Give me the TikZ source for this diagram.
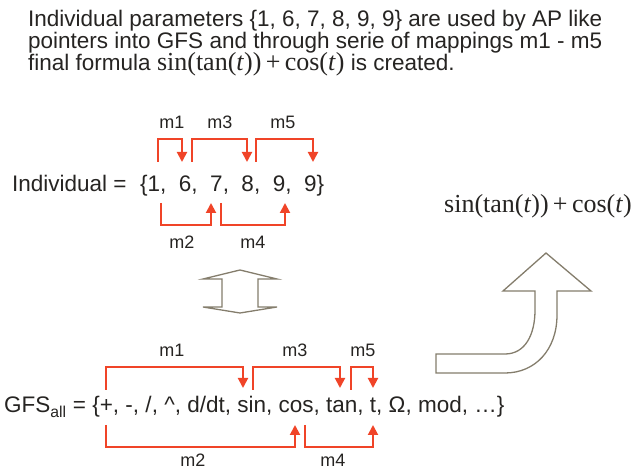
\documentclass[tikz,border=0pt]{standalone}
\usepackage{fontspec}
\setmainfont{Liberation Sans}
\newfontfamily\tms{Liberation Serif}
\usetikzlibrary{arrows.meta,calc}
\definecolor{txt}{RGB}{38,36,34}
\definecolor{redc}{RGB}{240,68,40}
\definecolor{outl}{RGB}{132,125,108}
\tikzset{
  body/.style={inner sep=0pt, text=txt, font=\fontsize{22.5}{22.5}\selectfont, anchor=base west},
  lbl/.style={inner sep=0pt, text=txt, font=\fontsize{18}{18}\selectfont},
  rarr/.style={draw=redc, line width=2pt, -{Triangle[length=10pt,width=10pt]}},
  hollow/.style={draw=outl, line width=1.3pt, fill=white, line join=miter},
}
\newcommand{\fml}{{\tms\fontsize{26}{26}\selectfont sin(tan(\textit{t}))\,+\,cos(\textit{t})}}
\begin{document}
\begin{tikzpicture}[x=1pt,y=-1pt]
\useasboundingbox (0,0) rectangle (641,470);
% title
\node[body] (t1) at (28,27) {Individual parameters \{1, 6, 7, 8, 9, 9\} are used by AP like};
\node[body] (t2) at (28,49) {pointers into GFS and through serie of mappings m1 - m5};
\node[body] (t3) at (28,71) {final formula \fml\ is created.};
% individual row
\node[body] (ind) at (12,192) {Individual =};
\node[body] (iset) at (140,192) {\{1,\ \ 6,\ \ 7,\ \ 8,\ \ 9,\ \ 9\}};
% GFS row
\node[body] (gfs) at (4,413) {GFS\textsubscript{all} = \{+, -, /, \textasciicircum, d/dt, sin, cos, tan, t, Ω, mod, …\}};
% result formula
\node[body] (res) at (444,213) {\fml};
% coordinates for individual row
\coordinate (itop) at (0,139);
\coordinate (ibot) at (0,225);
\coordinate (ia1) at (158,162); \coordinate (ib1) at (182,162);
\coordinate (ia3) at (192,162); \coordinate (ib3) at (247,162);
\coordinate (ia5) at (256,162); \coordinate (ib5) at (313,162);
\coordinate (ia2) at (161,203); \coordinate (ib2) at (211,203);
\coordinate (ia4) at (221,203); \coordinate (ib4) at (285,203);
\draw[rarr] (ia1) -- (ia1 |- itop) -| (ib1);
\draw[rarr] (ia3) -- (ia3 |- itop) -| (ib3);
\draw[rarr] (ia5) -- (ia5 |- itop) -| (ib5);
\draw[rarr] (ia2) -- (ia2 |- ibot) -| (ib2);
\draw[rarr] (ia4) -- (ia4 |- ibot) -| (ib4);
\node[lbl] (il1) at (172,122) {m1};
\node[lbl] (il3) at (220,122) {m3};
\node[lbl] (il5) at (283,122) {m5};
\node[lbl] (il2) at (182,242) {m2};
\node[lbl] (il4) at (253,242) {m4};
% coordinates for GFS row
\coordinate (gtop) at (0,367);
\coordinate (gbot) at (0,447);
\coordinate (ga1) at (106,390); \coordinate (gb1) at (243,388);
\coordinate (ga3) at (253,390); \coordinate (gb3) at (340,388);
\coordinate (ga5) at (351,390); \coordinate (gb5) at (373,388);
\coordinate (ga2) at (106,425); \coordinate (gb2) at (295,425);
\coordinate (ga4) at (305,425); \coordinate (gb4) at (373,425);
\draw[rarr] (ga1) -- (ga1 |- gtop) -| (gb1);
\draw[rarr] (ga3) -- (ga3 |- gtop) -| (gb3);
\draw[rarr] (ga5) -- (ga5 |- gtop) -| (gb5);
\draw[rarr] (ga2) -- (ga2 |- gbot) -| (gb2);
\draw[rarr] (ga4) -- (ga4 |- gbot) -| (gb4);
\node[lbl] (gl1) at (172,350) {m1};
\node[lbl] (gl3) at (295,350) {m3};
\node[lbl] (gl5) at (363,350) {m5};
\node[lbl] (gl2) at (193,460) {m2};
\node[lbl] (gl4) at (333,460) {m4};
% double arrow
\draw[hollow] (240,270) -- (277,279) -- (258,279) -- (258,307) -- (277,307) -- (240,313)
  -- (203,307) -- (222,307) -- (222,279) -- (203,279) -- cycle;
% curved big arrow
\draw[hollow] (436,354) -- (505,354) .. controls (525,354) and (535,335) .. (535,310)
  -- (535,291) -- (503,291) -- (546,253) -- (591,291) -- (557,291) -- (557,315)
  .. controls (557,350) and (535,373) .. (505,373) -- (436,373) -- cycle;
\end{tikzpicture}
\end{document}
